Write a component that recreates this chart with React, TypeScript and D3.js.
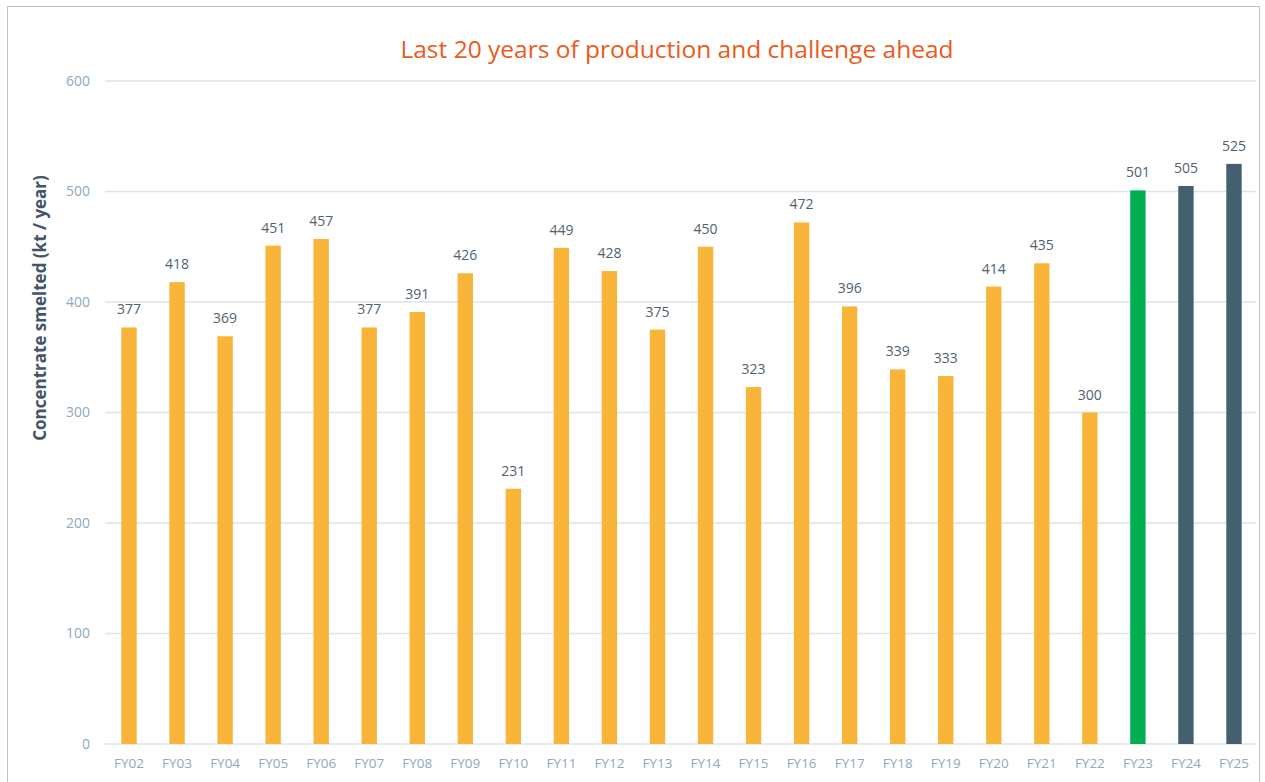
import { useEffect, useRef } from 'react';
import * as d3 from 'd3';

const years = ['FY02', 'FY03', 'FY04', 'FY05', 'FY06', 'FY07', 'FY08', 'FY09', 'FY10', 'FY11', 'FY12', 'FY13',
  'FY14', 'FY15', 'FY16', 'FY17', 'FY18', 'FY19', 'FY20', 'FY21', 'FY22', 'FY23', 'FY24', 'FY25'];
const smelted = [377, 418, 369, 451, 457, 377, 391, 426, 231, 449, 428, 375,
  450, 323, 472, 396, 339, 333, 414, 435, 300, 501, 505, 525];
// actual / current year / plan
const kinds = ['a', 'a', 'a', 'a', 'a', 'a', 'a', 'a', 'a', 'a', 'a', 'a',
  'a', 'a', 'a', 'a', 'a', 'a', 'a', 'a', 'a', 'c', 'p', 'p'];
const yTicks = [0, 100, 200, 300, 400, 500, 600];

const W = 1265;
const H = 782;
const margin = { top: 81, right: 7, bottom: 38, left: 105 };
const font = '"Open Sans", "Noto Sans", sans-serif';
const colors: Record<string, string> = { a: '#F9B539', c: '#00B050', p: '#44606F' };

const App = () => {
  const ref = useRef<SVGSVGElement>(null);

  useEffect(() => {
    const svg = d3.select(ref.current);
    svg.selectAll('*').remove();

    const innerW = W - margin.left - margin.right;
    const innerH = H - margin.top - margin.bottom;

    const x = d3.scaleBand().domain(years).range([0, innerW]).paddingInner(0.68).paddingOuter(0.34);
    const y = d3.scaleLinear().domain([0, 600]).range([innerH, 0]);

    svg.append('rect')
      .attr('x', 7.5).attr('y', 6.5)
      .attr('width', 1252).attr('height', H)
      .attr('fill', '#fff').attr('stroke', '#B4C7D7');

    svg.append('text')
      .attr('x', 677).attr('y', 58)
      .attr('text-anchor', 'middle')
      .attr('font-family', font).attr('font-size', 24.5)
      .attr('fill', '#EA5B1C')
      .text('Last 20 years of production and challenge ahead');

    const g = svg.append('g').attr('transform', `translate(${margin.left},${margin.top})`);

    g.append('g')
      .selectAll('line')
      .data(yTicks)
      .join('line')
      .attr('x1', 0).attr('x2', innerW - 2)
      .attr('y1', d => y(d)).attr('y2', d => y(d))
      .attr('stroke', '#DCE3EA').attr('stroke-width', 1.5);

    const yAxis = g.append('g').call(d3.axisLeft(y).tickValues(yTicks).tickSize(0).tickPadding(15));
    yAxis.select('.domain').remove();
    yAxis.selectAll('text')
      .attr('font-family', font).attr('font-size', 14).attr('fill', '#8FA9BD');

    const xAxis = g.append('g').attr('transform', `translate(0,${innerH})`)
      .call(d3.axisBottom(x).tickSize(0).tickPadding(14));
    xAxis.select('.domain').remove();
    xAxis.selectAll('text')
      .attr('font-family', font).attr('font-size', 13.5).attr('fill', '#8FA9BD');

    g.selectAll('rect.bar')
      .data(years)
      .join('rect')
      .attr('class', 'bar')
      .attr('x', d => x(d)!)
      .attr('width', x.bandwidth())
      .attr('y', (d, i) => y(smelted[i]))
      .attr('height', (d, i) => innerH - y(smelted[i]))
      .attr('fill', (d, i) => colors[kinds[i]]);

    g.selectAll('text.lbl')
      .data(years)
      .join('text')
      .attr('class', 'lbl')
      .attr('x', d => x(d)! + x.bandwidth() / 2)
      .attr('y', (d, i) => y(smelted[i]) - 13)
      .attr('text-anchor', 'middle')
      .attr('font-family', font).attr('font-size', 14)
      .attr('fill', '#4F6272')
      .text((d, i) => smelted[i]);

    svg.append('text')
      .attr('transform', `translate(46,308) rotate(-90)`)
      .attr('text-anchor', 'middle')
      .attr('font-family', font).attr('font-size', 17).attr('font-weight', 'bold')
      .attr('fill', '#44546A')
      .text('Concentrate smelted (kt / year)');
  }, []);

  return <svg ref={ref} width={W} height={H} style={{ display: 'block', position: 'absolute', left: 0, top: 0 }} />;
};

export default App;
